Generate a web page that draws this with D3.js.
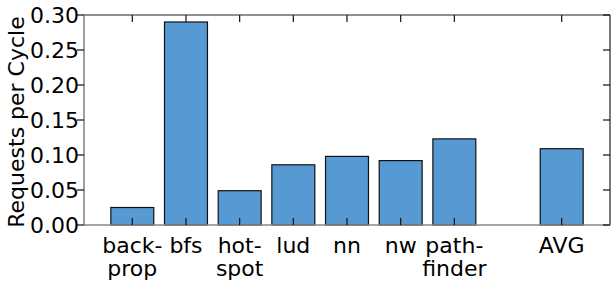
<!DOCTYPE html>
<html>
<head>
<meta charset="utf-8">
<script src="https://cdn.jsdelivr.net/npm/d3@7"></script>
<style>
  body { margin: 0; background: #fff; }
  text { font-family: "DejaVu Sans", sans-serif; fill: #000; }
</style>
</head>
<body>
<div id="chart"></div>
<script>
// Chart data
var benchmarks = ["backprop", "bfs", "hotspot", "lud", "nn", "nw", "pathfinder", "gap", "AVG"];
var tickLabels = [["back-", "prop"], ["bfs"], ["hot-", "spot"], ["lud"], ["nn"], ["nw"], ["path-", "finder"], null, ["AVG"]];
var requests = [0.025, 0.290, 0.049, 0.086, 0.098, 0.092, 0.123, null, 0.109];
var yTicks = [0.00, 0.05, 0.10, 0.15, 0.20, 0.25, 0.30];

var svgWidth = 611;
var svgHeight = 281;
var margin = { top: 15, right: 1, bottom: 56, left: 84 };
var width = svgWidth - margin.left - margin.right;
var height = svgHeight - margin.top - margin.bottom;

var svg = d3.select("#chart")
  .append("svg")
  .attr("width", svgWidth)
  .attr("height", svgHeight);

var chartGroup = svg.append("g")
  .attr("transform", `translate(${margin.left}, ${margin.top})`);

var x = d3.scaleBand()
  .domain(benchmarks)
  .range([0, width])
  .paddingInner(0.2)
  .paddingOuter(0.5);

var y = d3.scaleLinear()
  .domain([0, 0.30])
  .range([height, 0]);

var rows = benchmarks.map((b, i) => ({ name: b, value: requests[i], label: tickLabels[i] }))
  .filter(d => d.value !== null);

// Bars
chartGroup.selectAll("rect.bar")
  .data(rows)
  .enter()
  .append("rect")
  .attr("class", "bar")
  .attr("x", d => x(d.name))
  .attr("y", d => y(d.value))
  .attr("width", x.bandwidth())
  .attr("height", d => height - y(d.value))
  .attr("fill", "#5799d3")
  .attr("stroke", "#111")
  .attr("stroke-width", 1.2);

// Spines
chartGroup.append("line")
  .attr("x1", 0).attr("x2", width).attr("y1", 0).attr("y2", 0)
  .attr("stroke", "#222").attr("stroke-width", 1.2);
chartGroup.append("line")
  .attr("x1", width).attr("x2", width).attr("y1", 0).attr("y2", height)
  .attr("stroke", "#222").attr("stroke-width", 1.2);
chartGroup.append("line")
  .attr("x1", 0).attr("x2", 0).attr("y1", 0).attr("y2", height)
  .attr("stroke", "#888").attr("stroke-width", 1.6);
chartGroup.append("line")
  .attr("x1", 0).attr("x2", width).attr("y1", height).attr("y2", height)
  .attr("stroke", "#888").attr("stroke-width", 1.6);

// X ticks (inward, top and bottom)
var xCenter = d => x(d.name) + x.bandwidth() / 2;
chartGroup.selectAll("line.xtick-b")
  .data(rows)
  .enter()
  .append("line")
  .attr("x1", xCenter).attr("x2", xCenter)
  .attr("y1", height).attr("y2", height - 7)
  .attr("stroke", "#111").attr("stroke-width", 1.2);
chartGroup.selectAll("line.xtick-t")
  .data(rows)
  .enter()
  .append("line")
  .attr("x1", xCenter).attr("x2", xCenter)
  .attr("y1", 0).attr("y2", 7)
  .attr("stroke", "#111").attr("stroke-width", 1.2);

// X labels
var xLabels = chartGroup.selectAll("text.xlabel")
  .data(rows)
  .enter()
  .append("text")
  .attr("text-anchor", "middle")
  .attr("font-size", 22)
  .attr("transform", d => `translate(${xCenter(d)}, ${height + 28})`);
xLabels.selectAll("tspan")
  .data(d => d.label)
  .enter()
  .append("tspan")
  .attr("x", 0)
  .attr("y", (t, i) => i * 23)
  .text(t => t);

// Y ticks: outward on left, inward on right
chartGroup.selectAll("line.ytick-l")
  .data(yTicks)
  .enter()
  .append("line")
  .attr("x1", -7).attr("x2", 0)
  .attr("y1", d => y(d)).attr("y2", d => y(d))
  .attr("stroke", "#111").attr("stroke-width", 1.2);
chartGroup.selectAll("line.ytick-r")
  .data(yTicks)
  .enter()
  .append("line")
  .attr("x1", width - 7).attr("x2", width)
  .attr("y1", d => y(d)).attr("y2", d => y(d))
  .attr("stroke", "#111").attr("stroke-width", 1.2);

chartGroup.selectAll("text.ylabel")
  .data(yTicks)
  .enter()
  .append("text")
  .attr("x", -5)
  .attr("y", d => y(d))
  .attr("dy", "0.36em")
  .attr("text-anchor", "end")
  .attr("font-size", 22)
  .text(d => d3.format(".2f")(d));

// Y axis title
svg.append("text")
  .attr("transform", `translate(24, ${margin.top + height / 2 + 2}) rotate(-90)`)
  .attr("text-anchor", "middle")
  .attr("font-size", 22)
  .text("Requests per Cycle");
</script>
</body>
</html>
